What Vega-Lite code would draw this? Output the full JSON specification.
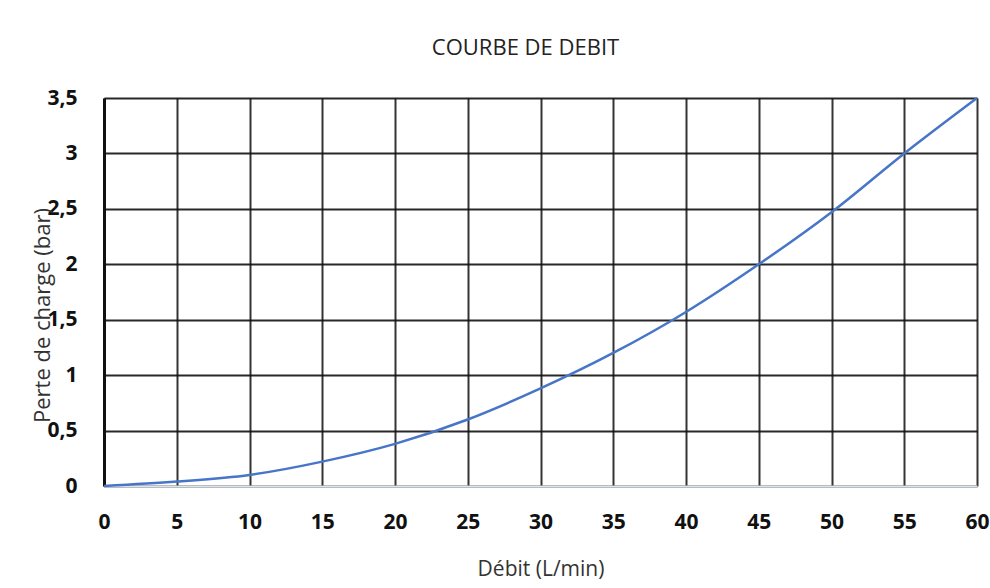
{
  "$schema": "https://vega.github.io/schema/vega-lite/v6.json",
  "width": 873,
  "height": 388,
  "autosize": {"type": "none"},
  "padding": {"left": 104, "top": 98, "right": 13, "bottom": 102},
  "background": "white",
  "title": {"text": "COURBE DE DEBIT", "font": "Open Sans", "fontSize": 22, "fontWeight": "normal", "color": "#222222", "anchor": "middle", "offset": 27, "dx": -15},
  "config": {"view": {"stroke": null}},
  "data": {"values": [
    {"debit": 0, "perte": 0},
    {"debit": 5, "perte": 0.04},
    {"debit": 10, "perte": 0.1},
    {"debit": 15, "perte": 0.22},
    {"debit": 20, "perte": 0.38},
    {"debit": 25, "perte": 0.6},
    {"debit": 30, "perte": 0.88},
    {"debit": 35, "perte": 1.2},
    {"debit": 40, "perte": 1.57},
    {"debit": 45, "perte": 2.0},
    {"debit": 50, "perte": 2.47},
    {"debit": 55, "perte": 3.0},
    {"debit": 60, "perte": 3.5}
  ]},
  "mark": {"type": "line", "color": "#4775C7", "strokeWidth": 2.5, "interpolate": "monotone"},
  "encoding": {
    "x": {"field": "debit", "type": "quantitative",
      "scale": {"domain": [0, 60], "nice": false},
      "axis": {"values": [0,5,10,15,20,25,30,35,40,45,50,55,60], "title": "Débit (L/min)",
        "titleFont": "Open Sans", "titleFontSize": 21, "titleFontWeight": "normal", "titleColor": "#333333", "titlePadding": 26,
        "labelFont": "Open Sans", "labelFontSize": 21, "labelFontWeight": "bold", "labelColor": "#111111", "labelPadding": 25,
        "ticks": false, "domainColor": "#dde4ec", "domainWidth": 2,
        "grid": true, "gridColor": "#111111", "gridWidth": 2, "gridOpacity": 0.85, "labelFlush": false}},
    "y": {"field": "perte", "type": "quantitative",
      "scale": {"domain": [0, 3.5], "nice": false},
      "axis": {"values": [0,0.5,1,1.5,2,2.5,3,3.5], "format": ",.1~f", "labelExpr": "replace(datum.label, '.', ',')",
        "title": "Perte de charge (bar)",
        "titleFont": "Open Sans", "titleFontSize": 22, "titleFontWeight": "normal", "titleColor": "#333333",
        "titleX": -62, "titleY": 217, "titleAngle": -90, "titleAlign": "center", "titleBaseline": "middle",
        "labelFont": "Open Sans", "labelFontSize": 21, "labelFontWeight": "bold", "labelColor": "#111111", "labelPadding": 27,
        "ticks": false, "domainColor": "#111111", "domainWidth": 3,
        "grid": true, "gridColor": "#111111", "gridWidth": 2, "gridOpacity": 0.9}}
  }
}
